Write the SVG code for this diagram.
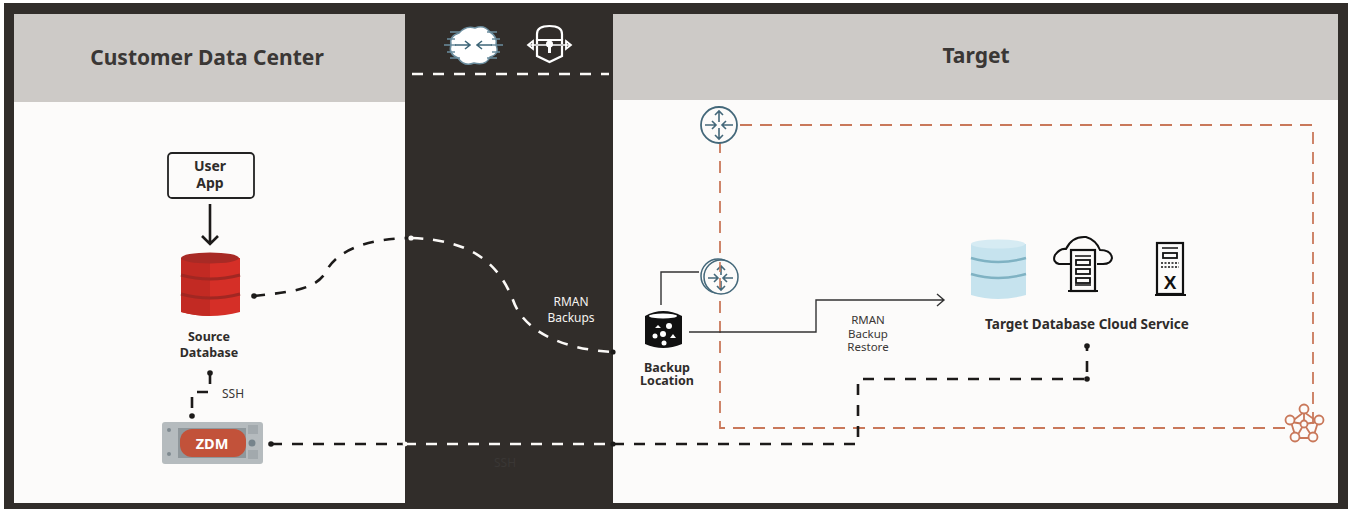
<svg xmlns="http://www.w3.org/2000/svg" width="1348" height="512" viewBox="0 0 1348 512">
<style>
text{font-family:"Noto Sans","Open Sans","Liberation Sans",sans-serif;text-anchor:middle}
.h{font-size:21px;font-weight:700;fill:#3a3735}
.b{font-size:12.5px;font-weight:700;fill:#2f2c2a}
.l{font-size:12px;fill:#3a3735}
.w{font-size:12px;fill:#f5f3f0}
.dk{fill:none;stroke:#1c1a19;stroke-width:2.6;stroke-dasharray:11 10}
.dw{fill:none;stroke:#fbf9f7;stroke-width:2.6;stroke-dasharray:11 10}
.or{fill:none;stroke:#c9785a;stroke-width:1.8;stroke-dasharray:12 8}
.th{fill:none;stroke:#333;stroke-width:1.4}
.tl{fill:none;stroke:#44687a;stroke-width:1.6}
.blk{fill:#111}
</style>
<rect width="1348" height="512" fill="#fff"/>
<rect x="4" y="3" width="1344" height="506" fill="#312d2a"/>
<rect x="14" y="14" width="391" height="489" fill="#fcfbfa"/>
<rect x="14" y="14" width="391" height="88" fill="#cdcac7"/>
<rect x="613" y="14" width="725" height="489" fill="#fcfbfa"/>
<rect x="613" y="14" width="725" height="86" fill="#cdcac7"/>
<text class="h" x="207" y="65">Customer Data Center</text>
<text class="h" x="976" y="63">Target</text>

<g id="connectors">
<path class="dw" d="M412 74H609"/>
<path class="or" d="M720 125H1313V425M1285 428H720V125"/>
<path d="M210 204V243M202 236L210 244L218 236" fill="none" stroke="#1c1a19" stroke-width="2.6"/>
<path d="M254 296C290 292 315 290 326 272C336 250 370 238 412 238" class="dk"/>
<path d="M412 238C470 240 498 262 513 300C525 335 570 350 613 352" class="dw"/>
<circle cx="254" cy="296" r="2.8" fill="#1c1a19"/>
<circle cx="411" cy="238" r="2.6" fill="#fbf9f7"/>
<circle cx="613" cy="352" r="2.6" fill="#1c1a19"/>
<path class="dk" d="M210 373V392H192V417" stroke-dasharray="12 9"/>
<circle cx="210" cy="373" r="2.8" fill="#1c1a19"/>
<circle cx="192" cy="416" r="2.8" fill="#1c1a19"/>
<path class="dk" d="M271 444H405"/>
<path class="dw" d="M405 444H613"/>
<path class="dk" d="M613 444H858V379H1087V346"/>
<circle cx="271" cy="444" r="2.8" fill="#1c1a19"/>
<circle cx="405" cy="444" r="2.4" fill="#fbf9f7"/>
<circle cx="613" cy="444" r="2.6" fill="#1c1a19"/>
<circle cx="1087" cy="379" r="2.8" fill="#1c1a19"/>
<circle cx="1087" cy="346" r="2.8" fill="#1c1a19"/>
<path class="th" d="M661 305V272H699"/>
<path class="th" d="M689 332H816V300H944M937 294L944 300L937 306"/>
</g>

<g id="user-app">
<rect x="168" y="153" width="86" height="45" rx="4" fill="#fcfbfa" stroke="#222" stroke-width="1.8"/>
<text class="b" x="210" y="171" style="font-size:14px">User</text>
<text class="b" x="210" y="188" style="font-size:14px">App</text>
</g>

<g id="source-database">
<path d="M181 258V312Q210 320 240 312V258Z" fill="#d52f27"/>
<path d="M181 258V312Q195 316 210 316V258Z" fill="#c22a23"/>
<ellipse cx="210" cy="258" rx="29" ry="5.5" fill="#a82a25"/>
<path d="M181 275Q210 283 240 275M181 294Q210 302 240 294" fill="none" stroke="#a12722" stroke-width="3"/>
<text class="b" x="209" y="341">Source</text>
<text class="b" x="209" y="357">Database</text>
</g>

<g id="zdm">
<rect x="162" y="422" width="101" height="42" rx="3" fill="#b5bbbe"/>
<rect x="178" y="428" width="68" height="30" fill="#8f979b"/>
<rect x="180" y="429" width="66" height="28" rx="12" fill="#c2523a"/>
<circle cx="169" cy="430" r="2" fill="#7f8a90"/><circle cx="169" cy="454" r="2" fill="#7f8a90"/>
<rect x="248" y="425" width="10" height="9" fill="#a2a9ad"/><rect x="248" y="450" width="10" height="9" fill="#a2a9ad"/>
<circle cx="252" cy="443" r="3.5" fill="#76848c"/>
<text x="212" y="449" style="font-size:14.5px;font-weight:700;fill:#fff">ZDM</text>
</g>

<g id="labels">
<text class="l" x="233" y="398">SSH</text>
<text class="l" x="505" y="467">SSH</text>
<text class="w" x="571" y="306">RMAN</text>
<text class="w" x="571" y="322">Backups</text>
<text class="l" x="868" y="324" style="font-size:11.5px">RMAN</text>
<text class="l" x="868" y="338" style="font-size:11.5px">Backup</text>
<text class="l" x="868" y="351" style="font-size:11.5px">Restore</text>
</g>

<g id="internet-gateway">
<path d="M459 33Q466 25 475 28Q484 24 490 32Q498 37 496 45Q500 54 490 57Q486 66 474 63Q464 67 458 58Q448 54 451 45Q449 36 459 33Z" fill="#fff" stroke="#6b8d9e" stroke-width="1.5"/>
<path d="M450 32H460M447 39H455M444 45H456M447 52H455M450 58H460M487 32H497M492 39H500M491 45H503M492 52H500M487 58H497" stroke="#6b8d9e" stroke-width="1.6"/>
<path d="M455 45H469M465 41L470 45L465 49M492 45H478M482 41L477 45L482 49" fill="none" stroke="#3e6678" stroke-width="1.6"/>
</g>
<g id="vpn-lock">
<path d="M537 40V34Q537 26 549.500 26Q562 26 562 34V40" fill="none" stroke="#fff" stroke-width="2.200" transform="translate(0,0)"/>
<path d="M537 40H562V56L549.500 62L537 56Z" fill="none" stroke="#fff" stroke-width="2.200"/>
<path d="M529 45H570" stroke="#ccc" stroke-width="2"/>
<path d="M533 41L528 45L533 49ZM566 41L571 45L566 49Z" fill="none" stroke="#fff" stroke-width="1.800"/>
<circle cx="549.500" cy="44" r="3.500" fill="#fff"/><path d="M548 45H551V53H548Z" fill="#fff"/>
</g>

<g id="router-top">
<circle cx="719" cy="125" r="18" fill="#fcfbfa" stroke="#44687a" stroke-width="1.800"/>
<path d="M705 125H716M712 121L716 125L712 129M733 125H722M726 121L722 125L726 129M719 111V122M715 115L719 111L723 115M719 139V128M715 135L719 139L723 135" class="tl"/>
</g>
<g id="router-inner">
<circle cx="718" cy="276" r="17" fill="#fcfbfa" stroke="#44687a" stroke-width="1.500"/>
<circle cx="721" cy="277" r="17" fill="#fcfbfa" stroke="#44687a" stroke-width="1.500"/>
<path d="M708 278H718M714 274L718 278L714 282M733 278H723M727 274L723 278L727 282M721 266V275M717 270L721 266L725 270M721 290V281M717 286L721 290L725 286" class="tl"/>
</g>
<path d="M720 262V292" stroke="#c9785a" stroke-width="1.600" stroke-dasharray="10 6"/>

<g id="backup-location">
<path d="M645 316Q663 306 682 316V344Q663 352 645 344Z" class="blk"/>
<ellipse cx="663" cy="316" rx="14" ry="2.500" fill="#fff"/>
<circle cx="669" cy="326" r="3" fill="#fff"/><circle cx="655" cy="336" r="2.500" fill="#fff"/><circle cx="663" cy="334" r="3" fill="#fff"/><circle cx="664" cy="343" r="2.500" fill="#fff"/>
<path d="M658 325L661 328H655ZM673 334L676 338H670Z" fill="#fff"/>
<text class="b" x="667" y="372">Backup</text>
<text class="b" x="667" y="385">Location</text>
</g>

<g id="target-database">
<path d="M971 244V295Q998 303 1026 295V244Z" fill="#c6e3ee"/>
<ellipse cx="998" cy="244" rx="27" ry="4.500" fill="#d6ebf3"/>
<path d="M971 258Q998 266 1026 258M971 274Q998 282 1026 274" fill="none" stroke="#7fb2c3" stroke-width="2.500"/>
</g>
<g id="cloud-service">
<path d="M1070 264H1059Q1052 262 1055 255Q1060 248 1066 249Q1072 236 1086 237Q1096 240 1100 250Q1111 250 1112 258Q1111 264 1103 264H1097" fill="none" stroke="#111" stroke-width="2"/>
<rect x="1071" y="250" width="24" height="41" fill="#fcfbfa" stroke="#111" stroke-width="2.200"/>
<path d="M1068 291H1098" stroke="#111" stroke-width="2"/>
<path d="M1075 256H1091M1075 285H1091" stroke="#111" stroke-width="1.500"/>
<rect x="1076" y="260" width="14" height="5" fill="none" stroke="#111" stroke-width="1.800"/>
<rect x="1076" y="269" width="14" height="5" fill="none" stroke="#111" stroke-width="1.800"/>
<rect x="1076" y="278" width="14" height="5" fill="none" stroke="#111" stroke-width="1.800"/>
</g>
<g id="exadata">
<rect x="1157" y="243" width="26" height="51" fill="#fcfbfa" stroke="#111" stroke-width="2.200"/>
<path d="M1155 295H1186" stroke="#111" stroke-width="2"/>
<path d="M1162 248H1178" stroke="#111" stroke-width="1.500"/>
<rect x="1163" y="253" width="14" height="5" fill="none" stroke="#111" stroke-width="1.800"/>
<path d="M1161 263H1179M1161 267H1179" stroke="#111" stroke-width="1.500" stroke-dasharray="2 1.500"/>
<text x="1170" y="289" style="font-size:19px;font-weight:700;fill:#111;font-family:'Liberation Sans',sans-serif">X</text>
</g>
<text class="b" x="1087" y="329" style="font-size:13.500px">Target Database Cloud Service</text>

<g id="vcn">
<g fill="none" stroke="#c9785a" stroke-width="1.800">
<path d="M1304 412L1291 422L1296 438H1313L1318 422ZM1304 424V412M1304 424L1291 422M1304 424L1318 422M1304 424L1296 438M1304 424L1313 438"/>
<g fill="#fcfbfa"><circle cx="1304" cy="409" r="4.500"/><circle cx="1290" cy="420" r="4.500"/><circle cx="1319" cy="420" r="4.500"/><circle cx="1295" cy="437" r="4.500"/><circle cx="1313" cy="437" r="4.500"/><circle cx="1304" cy="424" r="3.500"/></g>
</g>
</g>
</svg>
